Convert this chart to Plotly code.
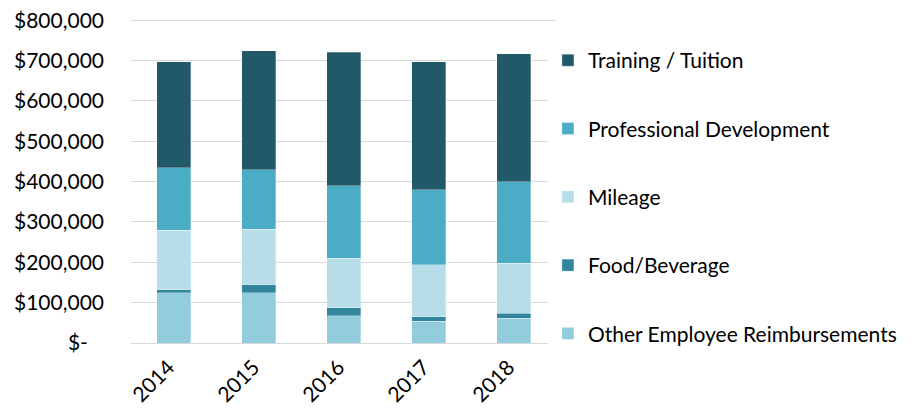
import plotly.graph_objects as go

years = ["2014", "2015", "2016", "2017", "2018"]
other_reimb = [125000, 125000, 68000, 54000, 61000]
food_bev = [7000, 19000, 19000, 11000, 13000]
mileage = [147000, 138000, 123000, 129000, 124000]
prof_dev = [155000, 147000, 180000, 186000, 202000]
training = [263000, 295000, 331000, 317000, 317000]

series = [
    ("Other Employee Reimbursements", other_reimb, "#93CDDD", 5),
    ("Food/Beverage", food_bev, "#31859C", 4),
    ("Mileage", mileage, "#B7DEE8", 3),
    ("Professional Development", prof_dev, "#4BACC6", 2),
    ("Training / Tuition", training, "#215968", 1),
]

tick_vals = [0, 100000, 200000, 300000, 400000, 500000, 600000, 700000, 800000]
tick_text = ["$-\u00a0\u00a0\u00a0", "$100,000", "$200,000", "$300,000", "$400,000",
             "$500,000", "$600,000", "$700,000", "$800,000"]

FONT = "Lato"

fig = go.Figure()
for name, vals, color, rank in series:
    fig.add_trace(go.Bar(
        x=years, y=vals, name=name, legendgroup=name, legendrank=rank,
        marker=dict(color=color, line=dict(color="rgba(255,255,255,0.6)", width=0.5)),
    ))

fig.update_layout(
    width=924, height=408,
    barmode="stack", bargap=0.6,
    margin=dict(l=131, r=368, t=19, b=65),
    paper_bgcolor="white", plot_bgcolor="white",
    font=dict(family=FONT, size=21, color="#000000"),
    legend=dict(
        x=0.981, xanchor="left", y=0.935, yanchor="top",
        traceorder="grouped", tracegroupgap=38,
        font=dict(family=FONT, size=21, color="#000000"),
        itemwidth=30,
    ),
    xaxis=dict(
        tickangle=-45, showgrid=False, showline=False, ticks="",
        tickfont=dict(family=FONT, size=21), automargin=False,
        ticklabelstandoff=7, ticklabelshift=-5, ticklabeloverflow="allow",
    ),
    yaxis=dict(
        range=[0, 803000], tickvals=tick_vals, ticktext=tick_text,
        showgrid=True, gridcolor="#D9D9D9", gridwidth=1.3,
        zeroline=True, zerolinecolor="#D9D9D9", zerolinewidth=1.3,
        showline=False, ticks="", ticklabelstandoff=26, ticklabeloverflow="allow",
        tickfont=dict(family=FONT, size=21), automargin=False,
    ),
)

fig.write_html(
    "out.html",
    config={"displayModeBar": False},
    post_script="document.body.style.margin='0';document.documentElement.style.overflow='hidden';",
)
